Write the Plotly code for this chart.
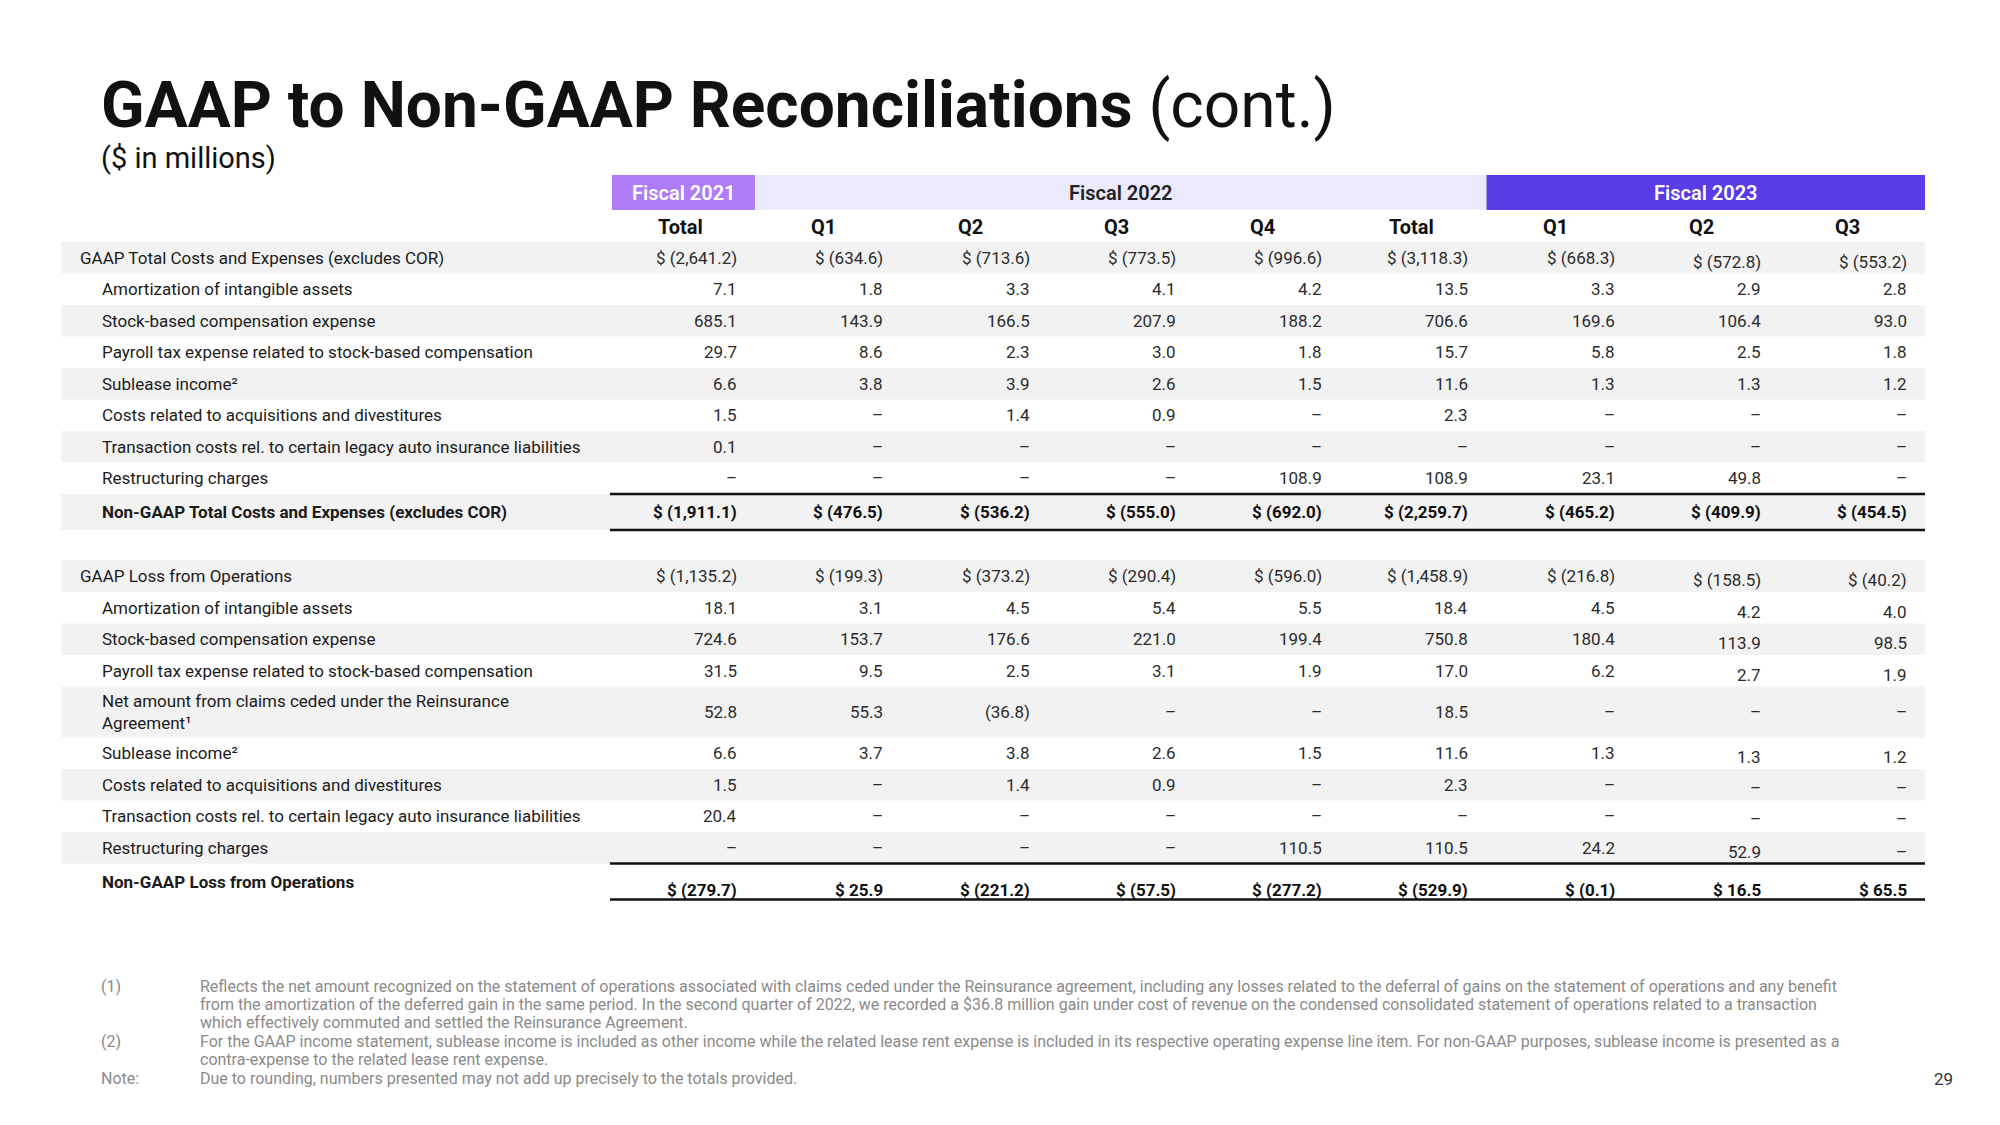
import plotly.graph_objects as go

# ---------------- data ----------------
title_bold = "GAAP to Non-GAAP Reconciliations"
title_rest = "(cont.)"
subtitle = "($ in millions)"
page_number = "29"

fiscal_groups = ["Fiscal 2021", "Fiscal 2022", "Fiscal 2023"]
group_sizes = [1, 5, 3]
col_headers = ["Total", "Q1", "Q2", "Q3", "Q4", "Total", "Q1", "Q2", "Q3"]

# Section 1: costs and expenses
costs_labels = [
    "GAAP Total Costs and Expenses (excludes COR)",
    "Amortization of intangible assets",
    "Stock-based compensation expense",
    "Payroll tax expense related to stock-based compensation",
    "Sublease income²",
    "Costs related to acquisitions and divestitures",
    "Transaction costs rel. to certain legacy auto insurance liabilities",
    "Restructuring charges",
    "Non-GAAP Total Costs and Expenses (excludes COR)",
]
costs_gaap = [-2641.2, -634.6, -713.6, -773.5, -996.6, -3118.3, -668.3, -572.8, -553.2]
costs_amort = [7.1, 1.8, 3.3, 4.1, 4.2, 13.5, 3.3, 2.9, 2.8]
costs_sbc = [685.1, 143.9, 166.5, 207.9, 188.2, 706.6, 169.6, 106.4, 93.0]
costs_payroll = [29.7, 8.6, 2.3, 3.0, 1.8, 15.7, 5.8, 2.5, 1.8]
costs_sublease = [6.6, 3.8, 3.9, 2.6, 1.5, 11.6, 1.3, 1.3, 1.2]
costs_acq = [1.5, None, 1.4, 0.9, None, 2.3, None, None, None]
costs_transaction = [0.1, None, None, None, None, None, None, None, None]
costs_restructuring = [None, None, None, None, 108.9, 108.9, 23.1, 49.8, None]
costs_nongaap = [-1911.1, -476.5, -536.2, -555.0, -692.0, -2259.7, -465.2, -409.9, -454.5]

# Section 2: loss from operations
ops_labels = [
    "GAAP Loss from Operations",
    "Amortization of intangible assets",
    "Stock-based compensation expense",
    "Payroll tax expense related to stock-based compensation",
    "Net amount from claims ceded under the Reinsurance<br>Agreement¹",
    "Sublease income²",
    "Costs related to acquisitions and divestitures",
    "Transaction costs rel. to certain legacy auto insurance liabilities",
    "Restructuring charges",
    "Non-GAAP Loss from Operations",
]
ops_gaap = [-1135.2, -199.3, -373.2, -290.4, -596.0, -1458.9, -216.8, -158.5, -40.2]
ops_amort = [18.1, 3.1, 4.5, 5.4, 5.5, 18.4, 4.5, 4.2, 4.0]
ops_sbc = [724.6, 153.7, 176.6, 221.0, 199.4, 750.8, 180.4, 113.9, 98.5]
ops_payroll = [31.5, 9.5, 2.5, 3.1, 1.9, 17.0, 6.2, 2.7, 1.9]
ops_reinsurance = [52.8, 55.3, -36.8, None, None, 18.5, None, None, None]
ops_sublease = [6.6, 3.7, 3.8, 2.6, 1.5, 11.6, 1.3, 1.3, 1.2]
ops_acq = [1.5, None, 1.4, 0.9, None, 2.3, None, None, None]
ops_transaction = [20.4, None, None, None, None, None, None, None, None]
ops_restructuring = [None, None, None, None, 110.5, 110.5, 24.2, 52.9, None]
ops_nongaap = [-279.7, 25.9, -221.2, -57.5, -277.2, -529.9, -0.1, 16.5, 65.5]

footnote_marks = ["(1)", "(2)", "Note:"]
footnote_lines = [
    [
        "Reflects the net amount recognized on the statement of operations associated with claims ceded under the Reinsurance agreement, including any losses related to the deferral of gains on the statement of operations and any benefit",
        "from the amortization of the deferred gain in the same period. In the second quarter of 2022, we recorded a $36.8 million gain under cost of revenue on the condensed consolidated statement of operations related to a transaction",
        "which effectively commuted and settled the Reinsurance Agreement.",
    ],
    [
        "For the GAAP income statement, sublease income is included as other income while the related lease rent expense is included in its respective operating expense line item. For non-GAAP purposes, sublease income is presented as a",
        "contra-expense to the related lease rent expense.",
    ],
    ["Due to rounding, numbers presented may not add up precisely to the totals provided."],
]

# ---------------- layout / style ----------------
W, H = 2000, 1125
PAGE_MARGIN = 8  # default body margin of the html page
FONT = "Roboto"
DARK = "#1b1b1b"
VAL = "#2b2b2b"
GRAY_BAND = "#f2f2f2"
RULE = "#111111"
GROUP_FILL = ["#ad7cf6", "#ebe9fc", "#5a3ce6"]
GROUP_TEXT = ["#ffffff", "#222222", "#ffffff"]

COL_R0, COL_STEP = 737, 146.25
CELL_L, CELL_R = 128, 18
TABLE_L, TABLE_R = 61, 1925
HEAD_Y0, HEAD_Y1 = 175, 210
COLHEAD_Y = 227


def col_right(i):
    return COL_R0 + i * COL_STEP


def fmt(v, dollar):
    if v is None:
        return "–"
    s = f"{abs(v):,.1f}"
    if v < 0:
        s = f"({s})"
    if dollar:
        s = "$ " + s
    return s


fig = go.Figure()
fig.add_trace(go.Scatter(x=[PAGE_MARGIN, W - PAGE_MARGIN], y=[PAGE_MARGIN, H - PAGE_MARGIN],
                         mode="markers", marker=dict(opacity=0), hoverinfo="skip",
                         showlegend=False))

shapes = []
ann = []


def text(x, y, s, size, color=DARK, weight="normal", xanchor="left", yanchor="middle"):
    ann.append(dict(x=x, y=y, xref="x", yref="y", text=s, showarrow=False,
                    xanchor=xanchor, yanchor=yanchor, align="left",
                    font=dict(family=FONT, size=size, color=color, weight=weight)))


# title
text(99, 105, f"<b>{title_bold}</b> {title_rest}", 64, color="#111111")
text(99, 158, subtitle, 29, color="#111111")

# group header bands
start = 0
for g, n in enumerate(group_sizes):
    x0 = col_right(start) - CELL_L + (3 if start == 0 else 0)
    x1 = col_right(start + n - 1) + CELL_R
    shapes.append(dict(type="rect", xref="x", yref="y", x0=x0, x1=x1, y0=HEAD_Y0, y1=HEAD_Y1,
                       fillcolor=GROUP_FILL[g], line=dict(width=0), layer="below"))
    text((x0 + x1) / 2, (HEAD_Y0 + HEAD_Y1) / 2, fiscal_groups[g], 20,
         color=GROUP_TEXT[g], weight=600, xanchor="center")
    start += n

for i, h in enumerate(col_headers):
    off = 81 if h == "Total" else 74
    text(col_right(i) - off, COLHEAD_Y, h, 20, color="#111111", weight="bold")


def draw_section(top, labels, rows, heights, kinds, value_dy, q23_dy):
    y = top
    for r, (lab, vals, h, kind) in enumerate(zip(labels, rows, heights, kinds)):
        if r % 2 == 0:
            shapes.append(dict(type="rect", xref="x", yref="y", x0=TABLE_L, x1=TABLE_R,
                               y0=y, y1=y + h, fillcolor=GRAY_BAND, line=dict(width=0),
                               layer="below"))
        cy = y + h / 2
        bold = kind == "total"
        indent = 80 if kind == "gaap" else 102
        text(indent - 2, cy, lab, 17, color=DARK, weight="bold" if bold else "normal")
        for c, v in enumerate(vals):
            dy = value_dy[r] + (q23_dy[r] if c >= 7 else 0)
            text(col_right(c) + 2, cy + dy, fmt(v, kind != "item"), 17,
                 color=VAL if not bold else "#111111",
                 weight="bold" if bold else "normal", xanchor="right")
        if kind == "total":
            for yy in (y, y + h):
                shapes.append(dict(type="line", xref="x", yref="y",
                                   x0=col_right(0) - CELL_L + 1, x1=TABLE_R, y0=yy, y1=yy,
                                   line=dict(color=RULE, width=2.6)))
        y += h


costs_rows = [costs_gaap, costs_amort, costs_sbc, costs_payroll, costs_sublease,
              costs_acq, costs_transaction, costs_restructuring, costs_nongaap]
ops_rows = [ops_gaap, ops_amort, ops_sbc, ops_payroll, ops_reinsurance, ops_sublease,
            ops_acq, ops_transaction, ops_restructuring, ops_nongaap]

draw_section(242, costs_labels, costs_rows, [31.5] * 8 + [36],
             ["gaap"] + ["item"] * 7 + ["total"],
             [0] * 9, [4, 0, 0, 0, 0, 0, 0, 0, 0])
draw_section(560, ops_labels, ops_rows, [32, 31.5, 31.5, 31.5, 51, 31.5, 31.5, 31.5, 31.5, 36],
             ["gaap"] + ["item"] * 8 + ["total"],
             [0] * 9 + [8], [4, 4, 4, 4, 0, 4, 3, 3, 4, 0])

# footnotes
fy = [986, 1041, 1078]
for mark, lines, y0 in zip(footnote_marks, footnote_lines, fy):
    text(99, y0, mark, 16, color="#8a8a8a")
    for k, line in enumerate(lines):
        text(198, y0 + k * 18, line, 16, color="#8a8a8a")

text(1955, 1079, page_number, 17, color="#333333", xanchor="right")

fig.update_layout(
    width=W - 2 * PAGE_MARGIN, height=H - 2 * PAGE_MARGIN,
    margin=dict(l=0, r=0, t=0, b=0),
    paper_bgcolor="white", plot_bgcolor="white",
    xaxis=dict(range=[PAGE_MARGIN, W - PAGE_MARGIN], visible=False, fixedrange=True),
    yaxis=dict(range=[H - PAGE_MARGIN, PAGE_MARGIN], visible=False, fixedrange=True),
    shapes=shapes, annotations=ann, showlegend=False,
)

fig.write_html("out.html", config={"displayModeBar": False})
